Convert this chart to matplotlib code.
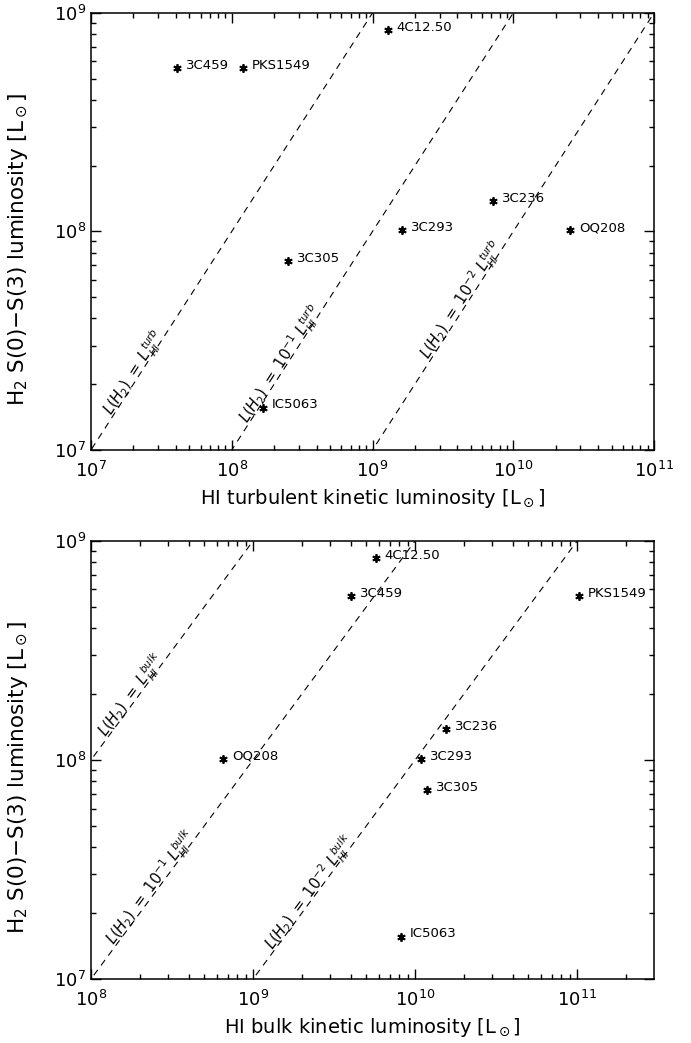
import matplotlib
matplotlib.use("Agg")
import matplotlib.pyplot as plt
import numpy as np

plt.rcParams["font.family"] = "DejaVu Sans"
plt.rcParams["mathtext.fontset"] = "dejavusans"

# sources and luminosities (L_sun)
names = ["3C459", "PKS1549", "4C12.50", "3C236", "3C293", "OQ208", "3C305", "IC5063"]
l_h2 = [5.6e8, 5.6e8, 8.35e8, 1.38e8, 1.01e8, 1.01e8, 7.3e7, 1.56e7]
l_turb = [4.05e7, 1.2e8, 1.28e9, 7.2e9, 1.63e9, 2.55e10, 2.5e8, 1.67e8]
l_bulk = [4.0e9, 1.02e11, 5.7e9, 1.56e10, 1.08e10, 6.5e8, 1.19e10, 8.2e9]

# efficiency lines L(H2) = f * L_HI
fracs = [1.0, 0.1, 0.01]
frac_txt = ["", r"10^{-1}\ ", r"10^{-2}\ "]

# where the line labels sit (log10 of L_H2 along each line)
turb_lab = [7.34, 7.38, 7.67]
bulk_lab = [8.28, 7.40, 7.38]


def panel(ax, lx, xlim, kind, lab_pos, xlabel):
    ax.set_xscale("log")
    ax.set_yscale("log")
    ax.set_xlim(*xlim)
    ax.set_ylim(1e7, 1e9)

    xl = np.array([1e5, 1e13])
    for f in fracs:
        ax.plot(xl, f * xl, ls=(0, (6, 5)), color="black", lw=0.8)

    ax.plot(lx, l_h2, ls="none", marker=(6, 2, 0), ms=6, mew=1.3, color="black")
    for n, x, y in zip(names, lx, l_h2):
        ax.annotate(n, (x, y), xytext=(6.5, 2), textcoords="offset points",
                    fontsize=9.5, va="center", ha="left")

    # angle of the 1:1 line in screen space
    p0 = ax.transData.transform((1e8, 1e8))
    p1 = ax.transData.transform((1e9, 1e9))
    ang = np.degrees(np.arctan2(p1[1] - p0[1], p1[0] - p0[0]))
    for ly, f, ft in zip(lab_pos, fracs, frac_txt):
        s = r"$L(H_2)\ =\ " + ft + r"L_{HI}^{" + kind + r"}$"
        ax.text(10 ** ly / f, 10 ** ly, s, rotation=ang, rotation_mode="anchor",
                ha="center", va="baseline", fontsize=10.5)

    ax.set_xlabel(xlabel, fontsize=14)
    ax.set_ylabel(r"H$_2$ S(0)$-$S(3) luminosity [L$_\odot$]", fontsize=15.5)
    ax.yaxis.set_label_coords(-0.108, 0.46)
    ax.tick_params(which="both", direction="in", top=True, right=True, labelsize=13)
    ax.tick_params(which="major", length=7, width=1)
    ax.tick_params(which="minor", length=3.5, width=1)
    ax.tick_params(axis="x", which="major", pad=8)
    for sp in ax.spines.values():
        sp.set_linewidth(1.1)


fig = plt.figure(figsize=(6.91, 10.43), dpi=100)
ax1 = fig.add_axes([0.1317, 0.5686, 0.8148, 0.419])
ax2 = fig.add_axes([0.1317, 0.0614, 0.8148, 0.420])

panel(ax1, l_turb, (1e7, 1e11), "turb", turb_lab,
      r"HI turbulent kinetic luminosity [L$_\odot$]")
panel(ax2, l_bulk, (1e8, 2.98e11), "bulk", bulk_lab,
      r"HI bulk kinetic luminosity [L$_\odot$]")

fig.savefig("out.png", dpi=100)
